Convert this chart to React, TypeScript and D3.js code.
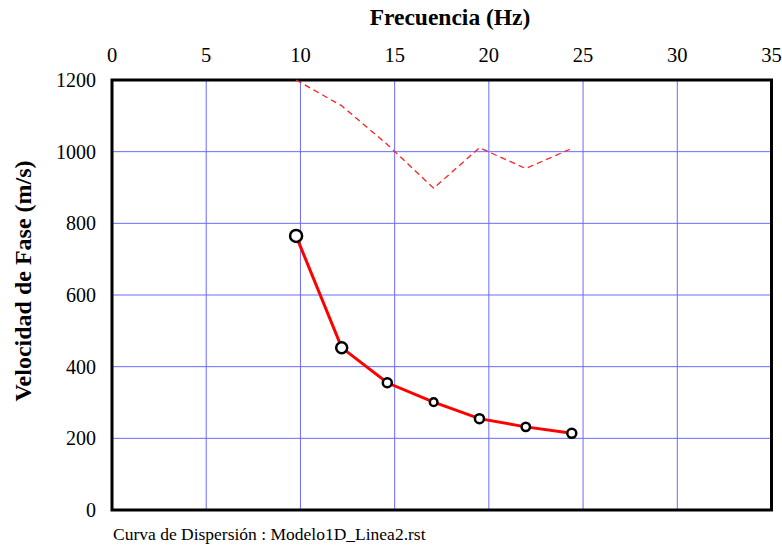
import React from "react";
import * as d3 from "d3";

const freq = [9.77, 12.19, 14.61, 17.07, 19.5, 21.96, 24.4];
const velocity = [765, 453, 355, 301, 255, 232, 214];
const markerSize = [6, 5.5, 4.5, 3.8, 4.5, 4.2, 4.5];
const dashedVel = [1200, 1128, 1020, 898, 1011, 953, 1009];
const xTicks = [0, 5, 10, 15, 20, 25, 30, 35];
const yTicks = [0, 200, 400, 600, 800, 1000, 1200];

const W = 782, H = 546;
const L = 112, R = 771.5, T = 80, B = 510;
const FONT = '"Liberation Serif"';

export default function App() {
  const x = d3.scaleLinear().domain([0, 35]).range([L, R]);
  const y = d3.scaleLinear().domain([0, 1200]).range([B, T]);
  const solid = d3.line<number>().x((_, i) => x(freq[i])).y((d) => y(d))(velocity) || "";
  const dashed = d3.line<number>().x((_, i) => x(freq[i])).y((d) => y(d))(dashedVel) || "";
  const ts = { fontFamily: FONT } as React.CSSProperties;
  return (
    <svg width={W} height={H} style={{ position: "absolute", left: 0, top: 0, background: "#fff" }}>
      <rect x={0} y={0} width={W} height={H} fill="#fff" />
      {xTicks.map((t) => (
        <line key={"gx" + t} x1={x(t)} x2={x(t)} y1={T} y2={B} stroke="#6a6aff" strokeWidth={1} />
      ))}
      {yTicks.map((t) => (
        <line key={"gy" + t} x1={L} x2={R} y1={y(t)} y2={y(t)} stroke="#6a6aff" strokeWidth={1} />
      ))}
      <rect x={L} y={T} width={R - L} height={B - T} fill="none" stroke="#000" strokeWidth={3} />
      {xTicks.map((t) => (
        <text key={"tx" + t} style={ts} x={x(t)} y={62} textAnchor="middle" fontSize={20.5}>{t}</text>
      ))}
      {yTicks.map((t) => (
        <text key={"ty" + t} style={ts} x={96} y={y(t)} dy="0.35em" textAnchor="end" fontSize={20}>{t}</text>
      ))}
      <path d={dashed} fill="none" stroke="#ff2020" strokeWidth={1.3} strokeDasharray="6,4" />
      <path d={solid} fill="none" stroke="#ff0000" strokeWidth={3} />
      {velocity.map((v, i) => (
        <circle key={"p" + i} cx={x(freq[i])} cy={y(v)} r={markerSize[i]} fill="#fff" stroke="#000" strokeWidth={2.5} />
      ))}
      <text style={ts} x={450} y={25} textAnchor="middle" fontSize={23.5} fontWeight="bold">Frecuencia (Hz)</text>
      <text style={ts} transform={`translate(31,${281}) rotate(-90)`} textAnchor="middle" fontSize={24} fontWeight="bold">Velocidad de Fase (m/s)</text>
      <text style={ts} x={113} y={540} fontSize={17.5}>Curva de Dispersión : Modelo1D_Linea2.rst</text>
    </svg>
  );
}
